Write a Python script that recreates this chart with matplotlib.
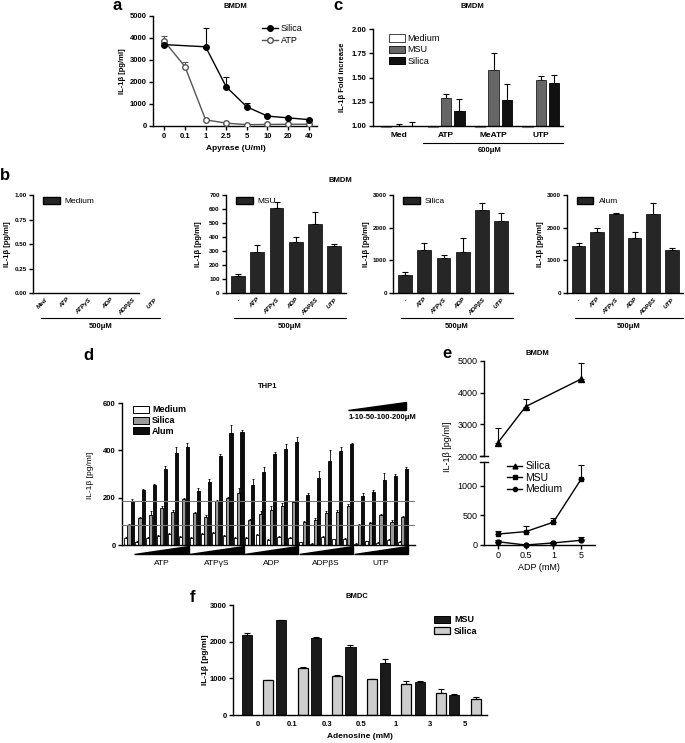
import numpy as np
import matplotlib.pyplot as plt
from matplotlib.patches import Polygon, Patch
from matplotlib.lines import Line2D

plt.rcParams['font.family'] = ['Liberation Sans', 'DejaVu Sans']
plt.rcParams['axes.linewidth'] = 1.0
plt.rcParams['xtick.major.width'] = 1.0
plt.rcParams['ytick.major.width'] = 1.0

# ---- panel a: apyrase ----
a_dose = ['0', '0.1', '1', '2.5', '5', '10', '20', '40']
a_silica_doses = ['0', '1', '2.5', '5', '10', '20', '40']
a_silica = [3700, 3600, 1780, 870, 450, 370, 290]
a_silica_err = [80, 850, 450, 180, 60, 50, 40]
a_atp = [3850, 2700, 280, 130, 60, 70, 80, 80]
a_atp_err = [250, 200, 30, 20, 10, 10, 10, 10]

# ---- panel c: fold increase ----
c_groups = ['Med', 'ATP', 'MeATP', 'UTP']
c_medium = [1.0, 1.0, 1.0, 1.0]
c_msu = [1.0, 1.29, 1.58, 1.47]
c_msu_err = [0.02, 0.035, 0.17, 0.045]
c_silica = [1.0, 1.15, 1.27, 1.44]
c_silica_err = [0.045, 0.13, 0.165, 0.09]

# ---- panel b ----
b_labels_med = ['Med', 'ATP', 'ATPγS', 'ADP', 'ADPβS', 'UTP']
b_labels = ['-', 'ATP', 'ATPγS', 'ADP', 'ADPβS', 'UTP']
b_msu = [120, 295, 608, 365, 492, 333]
b_msu_err = [15, 45, 40, 35, 85, 20]
b_silica = [550, 1310, 1080, 1260, 2550, 2200]
b_silica_err = [100, 210, 80, 430, 200, 260]
b_alum = [1440, 1870, 2410, 1680, 2430, 1330]
b_alum_err = [90, 110, 30, 190, 330, 60]

# ---- panel d: THP1, control + 5 agonists x 5 doses ----
d_agonists = ['ATP', 'ATPγS', 'ADP', 'ADPβS', 'UTP']
d_medium = [28, 12, 28, 38, 45, 35, 30, 45, 52, 38, 30, 28, 42, 22, 35, 28,
            11, 5, 34, 24, 25, 5, 15, 8, 22, 12]
d_medium_err = [4, 4, 4, 4, 5, 4, 4, 5, 5, 5, 4, 4, 4, 3, 4, 4,
                3, 3, 4, 3, 3, 2, 3, 3, 4, 3]
d_silica = [83, 113, 128, 155, 140, 193, 135, 120, 185, 200, 220, 105, 130, 150, 165, 180,
            96, 106, 137, 141, 166, 84, 94, 125, 99, 117]
d_silica_err = [5, 6, 15, 10, 10, 5, 6, 8, 5, 4, 20, 5, 12, 15, 14, 6,
                5, 6, 6, 6, 6, 5, 5, 6, 6, 5]
d_alum = [185, 232, 253, 320, 390, 415, 228, 265, 375, 475, 478, 255, 310, 385, 405, 435,
          211, 285, 355, 398, 425, 208, 222, 275, 292, 320]
d_alum_err = [10, 5, 5, 15, 22, 15, 14, 13, 10, 30, 10, 25, 18, 8, 20, 20,
              8, 28, 45, 15, 6, 12, 10, 30, 8, 8]

# ---- panel e: ADP dose, broken axis ----
e_dose = ['0', '0.5', '1', '5']
e_silica_doses = ['0', '0.5', '5']
e_silica = [2420, 3560, 4430]
e_silica_err = [480, 230, 510]
e_msu = [185, 225, 385, 1110]
e_msu_err = [50, 90, 70, 240]
e_medium = [55, 0, 35, 80]
e_medium_err = [30, 10, 15, 50]

# ---- panel f: adenosine ----
f_dose = ['0', '0.1', '0.3', '0.5', '1', '3', '5']
f_msu = [2180, 2580, 2110, 1845, 1420, 900, 555]
f_msu_err = [50, 15, 20, 60, 120, 15, 10]
f_silica = [955, 1275, 1065, 985, 855, 610, 445]
f_silica_err = [10, 45, 30, 10, 60, 90, 55]

W, H = 685, 743
fig = plt.figure(figsize=(W / 100, H / 100), dpi=100)


def add_ax(l, t, r, b):
    ax = fig.add_axes([l / W, 1 - b / H, (r - l) / W, (b - t) / H])
    ax.spines['top'].set_visible(False)
    ax.spines['right'].set_visible(False)
    ax.patch.set_alpha(0)
    return ax


def ftext(x, y, s, **kw):
    fig.text(x / W, 1 - y / H, s, **kw)


def fline(x0, x1, y, lw=0.8):
    fig.add_artist(Line2D([x0 / W, x1 / W], [1 - y / H, 1 - y / H], color='k', lw=lw))


def up_err(ax, x, y, e, cap=2, lw=0.8, color='k'):
    ax.errorbar(x, y, yerr=[np.zeros(len(e)), e], fmt='none', ecolor=color,
                elinewidth=lw, capsize=cap, capthick=lw, zorder=1)


def yticks(ax, ticks, labels, fs, bold=True):
    ax.set_yticks(ticks, labels, fontsize=fs, fontweight='bold' if bold else 'normal')
    ax.tick_params(axis='y', length=3, pad=1.5)


# ================= a =================
ax = add_ax(153, 16, 317, 126)
xa = np.arange(len(a_dose))
xs = [a_dose.index(d) for d in a_silica_doses]
up_err(ax, xa, a_atp, a_atp_err, color='#555555')
ax.plot(xa, a_atp, color='#555555', lw=1, marker='o', ms=4, mfc='white', mec='#555555', zorder=3)
up_err(ax, xs, a_silica, a_silica_err)
ax.plot(xs, a_silica, color='k', lw=1, marker='o', ms=4, zorder=4)
ax.set_xlim(-0.55, 7.4)
ax.set_ylim(0, 5000)
yticks(ax, [0, 1000, 2000, 3000, 4000, 5000], ['0', '1000', '2000', '3000', '4000', '5000'], 5.5)
ax.set_xticks(xa, a_dose, fontsize=5.5, fontweight='bold')
ax.tick_params(axis='x', length=3, pad=2)
hl = [Line2D([], [], color='k', lw=1, marker='o', ms=4),
      Line2D([], [], color='#555555', lw=1, marker='o', ms=4, mfc='white')]
ax.legend(hl, ['Silica', 'ATP'], loc='upper right', bbox_to_anchor=(0.96, 1.0), frameon=False,
          fontsize=6.5, handlelength=1.8, handletextpad=0.3, labelspacing=0.35)
ftext(123, 71, 'IL-1β [pg/ml]', rotation=90, ha='center', va='center', fontsize=5.5, fontweight='bold')
ftext(236, 149, 'Apyrase (U/ml)', ha='center', va='center', fontsize=6, fontweight='bold')
ftext(235, 6, 'BMDM', ha='center', va='center', fontsize=5.5, fontweight='bold')
ftext(117, 6, 'a', ha='center', va='center', fontsize=12, fontweight='bold')

# ================= c =================
ax = add_ax(373, 29, 563, 126)
xc = np.arange(len(c_groups))
off, bw = 0.28, 0.22
base = 0.985
ax.bar(xc - off, np.array(c_medium) - base, bw, bottom=base, color='white', edgecolor='#888888',
       lw=0.8, clip_on=False, zorder=2)
ax.bar(xc, np.array(c_msu) - 1.0, bw, bottom=1.0, color='#666666', edgecolor='#222222', lw=0.6, zorder=2)
ax.bar(xc + off, np.array(c_silica) - 1.0, bw, bottom=1.0, color='#111111', edgecolor='k', lw=0.6, zorder=2)
up_err(ax, xc, c_msu, c_msu_err, cap=2.2)
up_err(ax, xc + off, c_silica, c_silica_err, cap=2.2)
ax.set_xlim(-0.55, 3.47)
ax.set_ylim(1.0, 2.0)
yticks(ax, [1.0, 1.25, 1.5, 1.75, 2.0], ['1.00', '1.25', '1.50', '1.75', '2.00'], 5.5)
ax.set_xticks(xc, c_groups, fontsize=6, fontweight='bold')
ax.tick_params(axis='x', length=0, pad=4)
hc = [Patch(facecolor='white', edgecolor='#444444', lw=0.7),
      Patch(facecolor='#666666', edgecolor='#222222', lw=0.7),
      Patch(facecolor='#111111', edgecolor='k', lw=0.7)]
ax.legend(hc, ['Medium', 'MSU', 'Silica'], loc='upper left', bbox_to_anchor=(0.04, 1.03), frameon=False,
          fontsize=6.5, handlelength=1.8, handleheight=0.9, handletextpad=0.3, labelspacing=0.25)
fline(423, 563, 143)
ftext(490, 151, '600μM', ha='center', va='center', fontsize=5.5, fontweight='bold')
ftext(343, 77, 'IL-1β Fold increase', rotation=90, ha='center', va='center', fontsize=5.5, fontweight='bold')
ftext(472, 7, 'BMDM', ha='center', va='center', fontsize=5.5, fontweight='bold')
ftext(338, 6, 'c', ha='center', va='center', fontsize=12, fontweight='bold')

# ================= b =================
xb = np.arange(6)
b_panels = [
    (33, 160, None, None, 'Medium', [0, 0.25, 0.5, 0.75, 1.0], ['0.00', '0.25', '0.50', '0.75', '1.00'], 1.0, b_labels_med, 8),
    (226, 346, b_msu, b_msu_err, 'MSU', [0, 100, 200, 300, 400, 500, 600, 700],
     ['0', '100', '200', '300', '400', '500', '600', '700'], 700, b_labels, 199),
    (393, 513, b_silica, b_silica_err, 'Silica', [0, 1000, 2000, 3000], ['0', '1000', '2000', '3000'], 3000, b_labels, 367),
    (567, 683, b_alum, b_alum_err, 'Alum', [0, 1000, 2000, 3000], ['0', '1000', '2000', '3000'], 3000, b_labels, 541),
]
for l, r, vals, errs, name, tk, tl, top, labs, ylx in b_panels:
    ax = add_ax(l, 195, r, 293)
    if vals is not None:
        ax.bar(xb, vals, 0.72, color='#262626', edgecolor='k', lw=0.5, zorder=2)
        up_err(ax, xb, vals, errs, cap=2.2)
        ax.set_xlim(-0.62, 5.6)
    else:
        ax.set_xlim(-0.55, 5.25)
        ax.spines['bottom'].set_bounds(-0.55, 4.3)
    ax.set_ylim(0, top)
    yticks(ax, tk, tl, 4.5)
    ax.set_xticks(xb, labs, fontsize=4.5, rotation=45, ha='right', rotation_mode='anchor',
                  style='italic', fontweight='bold')
    ax.tick_params(axis='x', length=0, pad=3)
    ax.legend([Patch(facecolor='#262626', edgecolor='k')], [name], loc='upper left',
              bbox_to_anchor=(0.02, 1.06), frameon=False, fontsize=6, handlelength=2.0,
              handleheight=1.0, handletextpad=0.6)
    ftext(ylx, 244, 'IL-1β [pg/ml]', rotation=90, ha='center', va='center', fontsize=5.5, fontweight='bold')
    fline(l + 8, r, 318)
    ftext((l + 8 + r) / 2, 327, '500μM', ha='center', va='center', fontsize=5.5, fontweight='bold')
ftext(340, 180, 'BMDM', ha='center', va='center', fontsize=5.5, fontweight='bold')
ftext(5, 176, 'b', ha='center', va='center', fontsize=12, fontweight='bold')

# ================= d =================
ax = add_ax(122, 403, 415, 545)
xd = np.arange(len(d_alum))
off, bw = 0.31, 0.28
ax.bar(xd - off, d_medium, bw, color='white', edgecolor='k', lw=0.6, zorder=2)
ax.bar(xd, d_silica, bw, color='#9a9a9a', edgecolor='k', lw=0.6, zorder=2)
ax.bar(xd + off, d_alum, bw, color='#0d0d0d', edgecolor='k', lw=0.6, zorder=2)
up_err(ax, xd - off, d_medium, d_medium_err, cap=0.8, lw=0.6)
up_err(ax, xd, d_silica, d_silica_err, cap=0.8, lw=0.6)
up_err(ax, xd + off, d_alum, d_alum_err, cap=0.8, lw=0.6)
ax.axhline(d_alum[0], color='#777777', lw=0.8, zorder=3)
ax.axhline(d_silica[0], color='#777777', lw=0.8, zorder=3)
ax.set_xlim(-0.64, 26.1)
ax.set_ylim(0, 600)
yticks(ax, [0, 200, 400, 600], ['0', '200', '400', '600'], 5.5)
ax.set_xticks([])
tr = ax.get_xaxis_transform()
for k, name in enumerate(d_agonists):
    x0 = 1 + 5 * k - 0.5
    x1 = 5 + 5 * k + 0.45
    ax.add_patch(Polygon([(x0, -0.065), (x1, -0.065), (x1, -0.005)], closed=True, transform=tr,
                         color='k', clip_on=False))
    ax.text(3 + 5 * k, -0.13, name, transform=tr, ha='center', va='center', fontsize=6)
ax.add_patch(Polygon([(0.77, 0.95), (0.97, 0.95), (0.97, 1.005)], closed=True, transform=ax.transAxes,
                     color='k', clip_on=False))
ax.text(0.89, 0.895, '1-10-50-100-200μM', transform=ax.transAxes, ha='center', va='center',
        fontsize=5.5, fontweight='bold')
hd = [Patch(facecolor='white', edgecolor='k', lw=0.7),
      Patch(facecolor='#9a9a9a', edgecolor='k', lw=0.7),
      Patch(facecolor='#0d0d0d', edgecolor='k', lw=0.7)]
ax.legend(hd, ['Medium', 'Silica', 'Alum'], loc='upper left', bbox_to_anchor=(0.01, 1.04), frameon=False,
          handlelength=1.8, handleheight=0.8, handletextpad=0.3, labelspacing=0.2,
          prop={'weight': 'bold', 'size': 6.5})
ftext(90, 475, 'IL-1β [pg/ml]', rotation=90, ha='center', va='center', fontsize=6)
ftext(268, 386, 'THP1', ha='center', va='center', fontsize=5.5, fontweight='bold')
ftext(88, 355, 'd', ha='center', va='center', fontsize=12, fontweight='bold')

# ================= e =================
xe = np.arange(len(e_dose))
xse = [e_dose.index(d) for d in e_silica_doses]
axu = add_ax(484, 361, 595, 456)
axl = add_ax(484, 462, 595, 545)
axu.spines['bottom'].set_visible(False)
axu.set_xticks([])
for a in (axu, axl):
    a.set_xlim(-0.5, 3.5)
up_err(axu, xse, e_silica, e_silica_err, cap=2.5)
axu.plot(xse, e_silica, color='k', lw=1, marker='^', ms=4, zorder=3)
axu.set_ylim(2000, 5000)
yticks(axu, [2000, 3000, 4000, 5000], ['2000', '3000', '4000', '5000'], 6.5, bold=False)
up_err(axl, xe, e_msu, e_msu_err, cap=2.5)
axl.plot(xe, e_msu, color='k', lw=1, marker='s', ms=3.5, zorder=3)
up_err(axl, xe, e_medium, e_medium_err, cap=2.5)
axl.plot(xe, e_medium, color='k', lw=1, marker='o', ms=3.5, zorder=3, clip_on=False)
axl.set_ylim(0, 1400)
yticks(axl, [0, 500, 1000], ['0', '500', '1000'], 6.5, bold=False)
axl.set_xticks(xe, e_dose, fontsize=6.5)
axl.tick_params(axis='x', length=3, pad=1.5)
fline(480, 488, 456, lw=1.0)
fline(480, 488, 462, lw=1.0)
he = [Line2D([], [], color='k', lw=1, marker='^', ms=3.5),
      Line2D([], [], color='k', lw=1, marker='s', ms=3),
      Line2D([], [], color='k', lw=1, marker='o', ms=3)]
fig.legend(he, ['Silica', 'MSU', 'Medium'], loc='upper left', bbox_to_anchor=(498 / W, 1 - 452 / H),
           frameon=False, fontsize=7.5, handlelength=1.4, handletextpad=0.3, labelspacing=0.15)
ftext(448, 447, 'IL-1β [pg/ml]', rotation=90, ha='center', va='center', fontsize=6.5)
ftext(539, 568, 'ADP (mM)', ha='center', va='center', fontsize=6.5)
ftext(537, 353, 'BMDM', ha='center', va='center', fontsize=5.5, fontweight='bold')
ftext(447, 353, 'e', ha='center', va='center', fontsize=12, fontweight='bold')

# ================= f =================
ax = add_ax(233, 605, 487, 715)
xf = np.arange(len(f_dose))
off, bw = 0.31, 0.29
ax.bar(xf - off, f_msu, bw, color='#1a1a1a', edgecolor='k', lw=0.6, zorder=2)
ax.bar(xf + off, f_silica, bw, color='#cdcdcd', edgecolor='k', lw=0.9, zorder=2)
up_err(ax, xf - off, f_msu, f_msu_err, cap=2.2)
up_err(ax, xf + off, f_silica, f_silica_err, cap=2.2)
ax.set_xlim(-0.71, 6.64)
ax.set_ylim(0, 3000)
yticks(ax, [0, 1000, 2000, 3000], ['0', '1000', '2000', '3000'], 5.5)
ax.set_xticks(xf, f_dose, fontsize=5.5, fontweight='bold')
ax.tick_params(axis='x', length=0, pad=4)
hf = [Patch(facecolor='#1a1a1a', edgecolor='k', lw=0.7),
      Patch(facecolor='#cdcdcd', edgecolor='k', lw=0.9)]
ax.legend(hf, ['MSU', 'Silica'], loc='upper left', bbox_to_anchor=(0.76, 0.98), frameon=False,
          handlelength=1.8, handleheight=0.8, handletextpad=0.4, labelspacing=0.3,
          prop={'weight': 'bold', 'size': 6.5})
ftext(205, 660, 'IL-1β [pg/ml]', rotation=90, ha='center', va='center', fontsize=6, fontweight='bold')
ftext(360, 737, 'Adenosine (mM)', ha='center', va='center', fontsize=6, fontweight='bold')
ftext(357, 597, 'BMDC', ha='center', va='center', fontsize=5.5, fontweight='bold')
ftext(193, 597, 'f', ha='center', va='center', fontsize=12, fontweight='bold')

fig.savefig('out.png', dpi=100)
